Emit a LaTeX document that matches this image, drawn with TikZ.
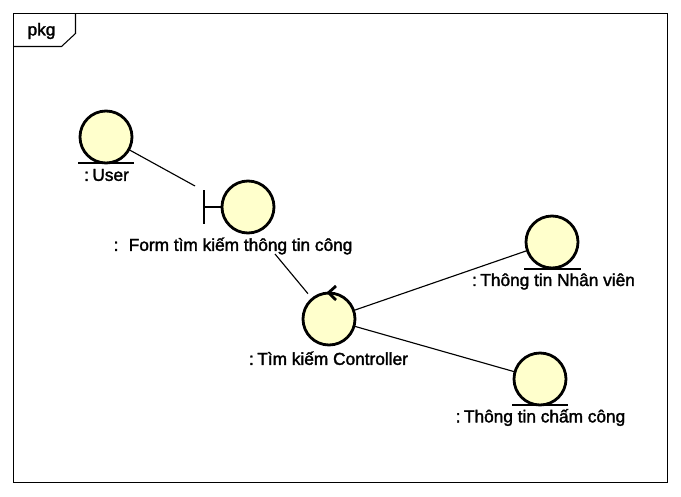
\documentclass[tikz,border=0pt]{standalone}
\usepackage{fontspec}
\setmainfont{Liberation Sans}
\newfontfamily\lblfont[FakeBold=1.8]{Liberation Sans}
\definecolor{robfill}{HTML}{FFFFCC}
\newcommand{\cgap}{\hspace{0.2em}}
\tikzset{
  rob/.style={circle,draw=black,line width=2.1pt,fill=robfill,minimum size=39pt,inner sep=0pt,outer sep=0pt},
  robline/.style={draw=black,line width=2.1pt},
  conn/.style={draw=black,line width=0.85pt},
  lbl/.style={inner sep=0pt,font=\lblfont\fontsize{12.95}{14}\selectfont,text=black},
  framel/.style={draw=black,line width=0.8pt}
}
\begin{document}
\begin{tikzpicture}[x=0.75pt,y=-0.75pt]
\useasboundingbox (0,0) rectangle (681,496);
\fill[white] (0,0) rectangle (681,496);
\draw[framel] (13.5,13.5) rectangle (667.5,482.7);
\draw[framel] (13.5,46.5) -- (61.5,46.5) -- (75.5,33.5) -- (75.5,13.5);
\node[lbl] (pkg) at (41.5,31) {pkg};
% icons
\node[rob] (user) at (106,137) {};
\draw[robline] (78,163) -- (134,163);
\node[rob] (form) at (248,207) {};
\draw[robline] (204,190) -- (204,224);
\draw[robline] (204,207) -- (form.west);
\node[rob] (ctrl) at (329,319) {};
\draw[robline] (336,286) -- (328.5,292.7) -- (336,300);
\node[rob] (nv) at (552,242) {};
\draw[robline] (524,269) -- (581,269);
\node[rob] (cc) at (540,379) {};
\draw[robline] (512,405) -- (568,405);
% labels
\node[lbl] (userl) at (106.5,175) {:\cgap User};
\node[lbl] (forml) at (233,246) {:\cgap\cgap\cgap Form tìm kiếm thông tin công};
\node[lbl] (ctrll) at (328.5,358.3) {:\cgap Tìm kiếm Controller};
\node[lbl] (nvl) at (553.5,281.5) {:\cgap Thông tin Nhân viên};
\node[lbl] (ccl) at (540.5,417.5) {:\cgap Thông tin chấm công};
% connector free ends
\coordinate (formin) at (195,186);
\coordinate (formout) at (275,254);
% connectors
\draw[conn] (user) -- (formin);
\draw[conn,shorten >=5.2pt] (formout) -- (ctrl);
\draw[conn] (ctrl) -- (nv);
\draw[conn] (ctrl) -- (cc);
\end{tikzpicture}
\end{document}
